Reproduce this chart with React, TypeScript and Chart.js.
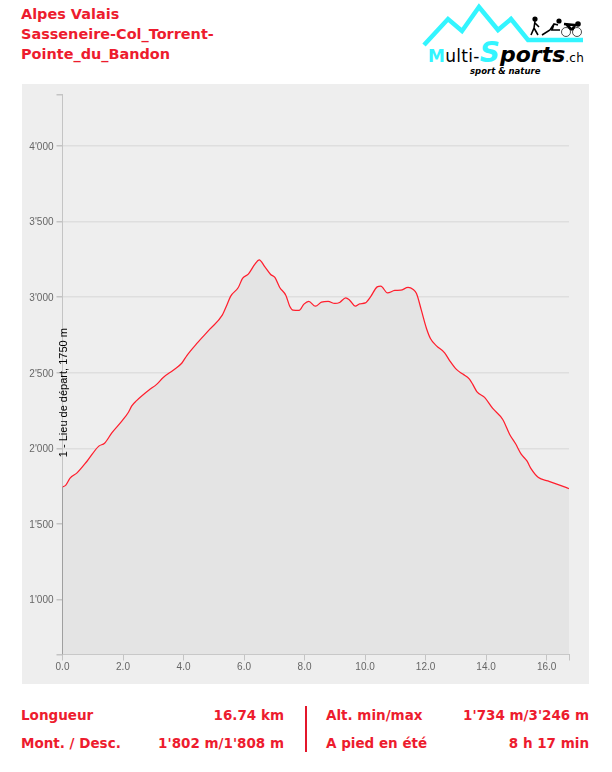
import React, { useEffect, useRef } from "react";
import { Chart, registerables } from "chart.js";

Chart.register(...registerables);

const distanceKm = [0, 0.11, 0.25, 0.48, 0.81, 1.2, 1.39, 1.63, 1.96, 2.18, 2.29, 2.44, 2.84, 3.12, 3.33, 3.66, 3.94, 4.11, 4.44, 4.87, 5.28, 5.43, 5.56, 5.81, 5.95, 6.14, 6.36, 6.5, 6.69, 6.88, 7.02, 7.18, 7.38, 7.51, 7.62, 7.82, 7.98, 8.14, 8.36, 8.56, 8.78, 9, 9.16, 9.36, 9.49, 9.68, 9.82, 10.01, 10.18, 10.4, 10.52, 10.74, 10.98, 11.18, 11.42, 11.58, 11.7, 11.86, 12.03, 12.16, 12.36, 12.63, 12.8, 13.02, 13.23, 13.45, 13.56, 13.7, 13.95, 14.22, 14.55, 14.78, 14.97, 15.16, 15.35, 15.49, 15.73, 16.04, 16.43, 16.74];
const elevationM = [1745, 1757, 1803, 1838, 1915, 2015, 2034, 2102, 2180, 2239, 2281, 2314, 2383, 2425, 2469, 2517, 2563, 2614, 2694, 2788, 2881, 2947, 3007, 3064, 3124, 3152, 3218, 3246, 3200, 3150, 3130, 3064, 3013, 2940, 2914, 2912, 2954, 2972, 2940, 2967, 2972, 2958, 2965, 2995, 2980, 2940, 2956, 2962, 3002, 3068, 3073, 3028, 3044, 3046, 3064, 3053, 3024, 2914, 2793, 2727, 2678, 2632, 2579, 2522, 2491, 2458, 2423, 2374, 2337, 2264, 2191, 2092, 2032, 1962, 1917, 1864, 1807, 1785, 1757, 1734];
const yTickValues = [1000, 1500, 2000, 2500, 3000, 3500, 4000];
const xTickValues = [0, 2, 4, 6, 8, 10, 12, 14, 16];
const yMin = 637;
const yMax = 4340;
const xMax = 16.74;
const startLabel = "1 - Lieu de départ, 1750 m";
const startElevation = 1750;
const titleLines = ["Alpes Valais", "Sasseneire-Col_Torrent-", "Pointe_du_Bandon"];
const leftStats = [["Longueur", "16.74 km"], ["Mont. / Desc.", "1'802 m/1'808 m"]];
const rightStats = [["Alt. min/max", "1'734 m/3'246 m"], ["A pied en été", "8 h 17 min"]];

const RED = "#ed1c2e";
const statFont = "bold 13.5px 'DejaVu Sans'";
const abs = (left: number, top: number): React.CSSProperties => ({ position: "absolute", left, top, whiteSpace: "nowrap" });

const startLabelPlugin = {
  id: "startLabel",
  afterDatasetsDraw(chart: any) {
    const { ctx, scales } = chart;
    const x = scales.x.getPixelForValue(0);
    const y = scales.y.getPixelForValue(startElevation);
    ctx.save();
    ctx.translate(x + 4, y - 29);
    ctx.rotate(-Math.PI / 2);
    ctx.font = "11px 'Liberation Sans'";
    ctx.fillStyle = "#000";
    ctx.textAlign = "left";
    ctx.textBaseline = "alphabetic";
    ctx.fillText(startLabel, 0, 0);
    ctx.restore();
  },
};

function Logo() {
  return (
    <>
      <svg style={{ position: "absolute", left: 420, top: 0 }} width={170} height={48}>
        <polyline points="4,45 28,19 42,31 59,7 78,30 91,19 108,40 163,40" fill="none" stroke="#33f5ff" strokeWidth={4.5} />
        <g stroke="#000" strokeWidth={1.6} fill="none">
          <circle cx={115} cy={19} r={1.8} fill="#000" />
          <path d="M115,21 L114,28 L111,35 M114,28 L118,35 M115,23 L119,27" />
          <circle cx={139} cy={21} r={1.8} fill="#000" />
          <path d="M122,35 L130,30 L134,24 L138,25 M134,24 L132,30 L140,30" />
          <circle cx={158} cy={24} r={2} fill="#000" />
          <path d="M144,24 L155,25 L152,30 M146,24 L152,30" strokeWidth={2.6} />
          <circle cx={146} cy={32} r={4.5} strokeWidth={0.7} />
          <circle cx={157} cy={32} r={4.5} strokeWidth={0.7} />
        </g>
      </svg>
      <div style={{ ...abs(428, 40), fontFamily: "'DejaVu Sans'", fontSize: 17, lineHeight: "26px", color: "#000", letterSpacing: 0.3 }}>
        <span style={{ color: "#33f5ff", fontWeight: 700 }}>M</span>
        <span>ulti-</span>
        <span style={{ color: "#33f5ff", fontStyle: "italic", fontSize: 28, fontWeight: 700, letterSpacing: 0 }}>S</span>
        <span style={{ fontStyle: "italic", fontSize: 22, fontWeight: 700, letterSpacing: 0 }}>ports</span>
        <span style={{ fontSize: 12 }}>.ch</span>
      </div>
      <div style={{ ...abs(470, 65), fontFamily: "'DejaVu Sans'", fontSize: 8.5, fontStyle: "italic", fontWeight: 700, lineHeight: "12px", color: "#000" }}>sport &amp; nature</div>
    </>
  );
}

export default function App() {
  const ref = useRef<HTMLCanvasElement>(null);

  useEffect(() => {
    const chart = new Chart(ref.current!, {
      type: "line",
      data: {
        datasets: [
          {
            data: distanceKm.map((x, i) => ({ x, y: elevationM[i] })),
            borderColor: "#ff1f2e",
            borderWidth: 1.25,
            backgroundColor: "#e4e4e4",
            fill: "start",
            pointRadius: 0,
            cubicInterpolationMode: "monotone",
          },
          {
            data: [{ x: 0, y: yMin }, { x: 0, y: elevationM[0] }],
            borderColor: "#666",
            borderWidth: 1,
            pointRadius: 0,
            fill: false,
          },
        ],
      },
      options: {
        animation: false,
        responsive: false,
        layout: { padding: { left: 0, right: 20, top: 10.5, bottom: 0 } },
        plugins: { legend: { display: false }, tooltip: { enabled: false } },
        scales: {
          x: {
            type: "linear",
            min: 0,
            max: xMax,
            afterBuildTicks: (s: any) => { s.ticks = [...xTickValues, xMax].map((value) => ({ value })); },
            afterFit: (s: any) => { s.height = 29.5; },
            grid: { color: "transparent", tickColor: "#c4c4c4", tickLength: 6, drawOnChartArea: false },
            border: { color: "#c4c4c4" },
            ticks: {
              maxRotation: 0,
              autoSkip: false,
              padding: 1,
              color: "#666",
              font: { family: "'Liberation Sans'", size: 10 },
              callback: (v: any) => (xTickValues.includes(v) ? Number(v).toFixed(1) : ""),
            },
          },
          y: {
            type: "linear",
            min: yMin,
            max: yMax,
            afterBuildTicks: (s: any) => { s.ticks = [yMin, ...yTickValues, yMax].map((value) => ({ value })); },
            afterFit: (s: any) => { s.width = 40.5; },
            grid: {
              color: (c: any) => (yTickValues.includes(c.tick?.value) ? "#dedede" : "transparent"),
              lineWidth: 1.5,
              tickColor: "#c4c4c4",
              tickLength: 6,
            },
            border: { color: "#c4c4c4" },
            ticks: {
              autoSkip: false,
              padding: 3,
              labelOffset: 1,
              color: "#666",
              font: { family: "'Liberation Sans'", size: 10 },
              callback: (v: any) =>
                yTickValues.includes(v) ? String(v).replace(/(\d)(\d{3})$/, "$1'$2") : "",
            },
          },
        },
      },
      plugins: [startLabelPlugin],
    } as any);
    return () => chart.destroy();
  }, []);

  const statText = (t: string, style: React.CSSProperties, k: string) => (
    <div key={k} style={{ position: "absolute", whiteSpace: "nowrap", font: statFont, lineHeight: "18px", color: RED, ...style }}>{t}</div>
  );

  return (
    <div style={{ position: "absolute", left: 0, top: 0, width: 612, height: 772, background: "#fff" }}>
      {titleLines.map((t, i) => (
        <div key={t} style={{ ...abs(21, 4 + i * 20), font: "bold 14.45px 'DejaVu Sans'", lineHeight: "20px", color: RED }}>{t}</div>
      ))}
      <Logo />
      <canvas ref={ref} width={567} height={600} style={{ position: "absolute", left: 22, top: 84, width: 567, height: 600, background: "#eeeeee" }} />
      {leftStats.map(([a, b], i) => (
        <React.Fragment key={a}>
          {statText(a, { left: 21, top: 706 + i * 28 }, a)}
          {statText(b, { right: 612 - 284, top: 706 + i * 28 }, b)}
        </React.Fragment>
      ))}
      <div style={{ position: "absolute", left: 305, top: 706, width: 2, height: 46, background: "#e3162b" }} />
      {rightStats.map(([a, b], i) => (
        <React.Fragment key={a}>
          {statText(a, { left: 326, top: 706 + i * 28 }, a)}
          {statText(b, { right: 612 - 589, top: 706 + i * 28 }, b)}
        </React.Fragment>
      ))}
    </div>
  );
}
